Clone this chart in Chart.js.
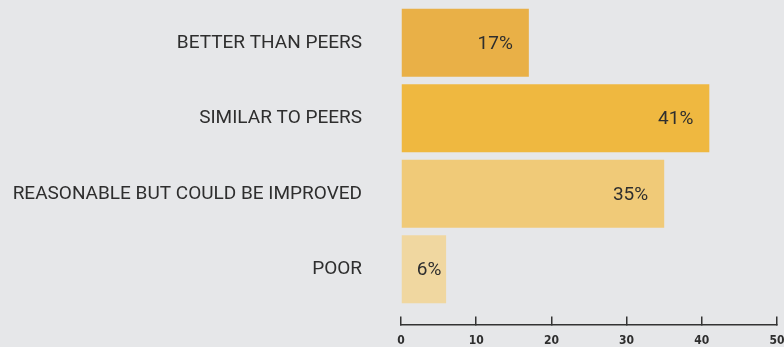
<!DOCTYPE html>
<html>
<head>
<meta charset="utf-8">
<script src="https://cdn.jsdelivr.net/npm/chart.js@4"></script>
<style>
  html, body { margin: 0; padding: 0; background: #e6e7e9; }
  #wrap { width: 784px; height: 347px; }
</style>
</head>
<body>
<div id="wrap"><canvas id="chart"></canvas></div>
<script>
const categories = ["BETTER THAN PEERS", "SIMILAR TO PEERS", "REASONABLE BUT COULD BE IMPROVED", "POOR"];
const shares = [17, 41, 35, 6];
const barColors = ["#e9b047", "#efb840", "#f0ca78", "#f0d7a0"];
const xTicks = [0, 10, 20, 30, 40, 50];

// percent labels at the inner end of each bar
const valueLabels = {
    id: "valueLabels",
    afterDatasetsDraw(chart) {
        const ctx = chart.ctx;
        const meta = chart.getDatasetMeta(0);
        ctx.save();
        ctx.font = "19px Roboto";
        ctx.fillStyle = "#2e2e2e";
        ctx.textAlign = "right";
        ctx.textBaseline = "middle";
        meta.data.forEach((bar, i) => {
            const text = shares[i] + "%";
            const w = ctx.measureText(text).width;
            const x = Math.max(bar.x - 16, bar.base + w + 15);
            ctx.fillText(text, x, bar.y + 1);
        });
        ctx.restore();
    }
};

new Chart(document.getElementById("chart"), {
    type: "bar",
    data: {
        labels: categories,
        datasets: [{
            data: shares,
            backgroundColor: barColors,
            borderWidth: 0,
            barPercentage: 0.9,
            categoryPercentage: 1
        }]
    },
    options: {
        indexAxis: "y",
        responsive: true,
        maintainAspectRatio: false,
        animation: false,
        layout: { padding: { top: 5, bottom: 40, left: 0, right: 7 } },
        plugins: { legend: { display: false }, tooltip: { enabled: false } },
        scales: {
            y: {
                grid: { display: false },
                border: { display: false },
                afterFit(scale) {
                    scale.width = 401;
                    scale.paddingTop = 0;
                    scale.paddingBottom = 0;
                },
                ticks: {
                    padding: 31,
                    color: "#2e2e2e",
                    font: { family: "Roboto", size: 19 }
                }
            },
            x: {
                position: { y: 3.74 },
                min: 0,
                max: 50,
                afterBuildTicks(scale) { scale.ticks = xTicks.map(v => ({ value: v })); },
                afterFit(scale) {
                    scale.paddingLeft = 0;
                    scale.paddingRight = 0;
                },
                grid: {
                    drawOnChartArea: false,
                    tickLength: -9,
                    color: "#333",
                    lineWidth: 1.5
                },
                border: { display: true, color: "#333", width: 1.5 },
                ticks: {
                    padding: 18,
                    color: "#2e2e2e",
                    maxRotation: 0,
                    font: { family: "'DejaVu Sans Condensed', 'Liberation Sans', sans-serif", size: 12, weight: "bold" }
                }
            }
        }
    },
    plugins: [valueLabels]
});
</script>
</body>
</html>
